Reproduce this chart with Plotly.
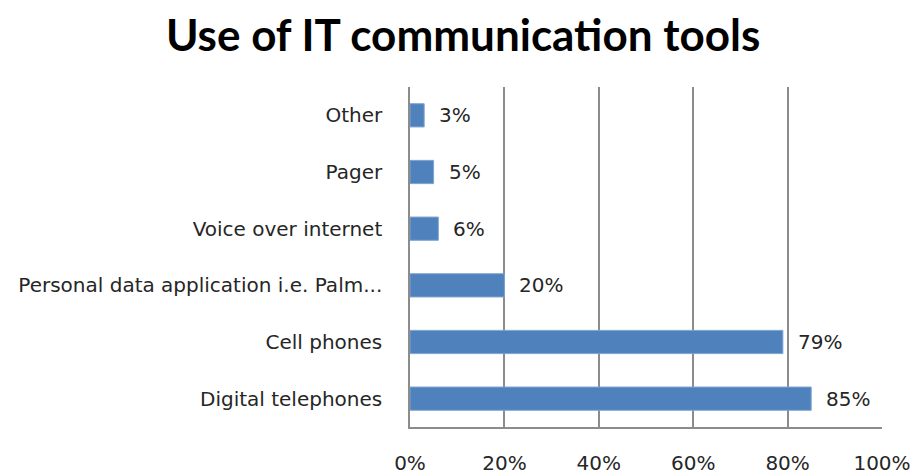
import plotly.graph_objects as go

# Survey categories, listed from the bottom bar upwards
categories = [
    "Digital telephones",
    "Cell phones",
    "Personal data application i.e. Palm...",
    "Voice over internet",
    "Pager",
    "Other",
]
shares = [85, 79, 20, 6, 5, 3]  # percent of respondents
x_ticks = [0, 20, 40, 60, 80, 100]
x_tick_labels = [f"{t}%" for t in x_ticks]

label_font = dict(family="DejaVu Sans, Verdana, sans-serif", size=20, color="#262626")

fig = go.Figure(
    go.Bar(
        x=shares,
        y=categories,
        orientation="h",
        marker=dict(color="#4F81BD", line=dict(color="#7FA3D0", width=1)),
        width=0.41,
        hoverinfo="skip",
    )
)

# Value labels placed just past each bar end
for cat, val in zip(categories, shares):
    fig.add_annotation(
        x=val, y=cat, text=f"{val}%", showarrow=False,
        xanchor="left", xshift=13, font=label_font,
    )

fig.update_layout(
    width=917,
    height=474,
    margin=dict(l=410, r=35, t=87, b=47),
    paper_bgcolor="white",
    plot_bgcolor="white",
    showlegend=False,
    title=dict(
        text="<b>Use of IT communication tools</b>",
        x=0.505, xanchor="center", y=0.925, yanchor="middle",
        font=dict(family="Lato, Open Sans, sans-serif", size=44, color="black"),
    ),
    xaxis=dict(
        range=[0, 100],
        tickvals=x_ticks,
        ticktext=x_tick_labels,
        showgrid=True,
        gridcolor="#8C8C8C",
        gridwidth=1.5,
        zeroline=False,
        showline=True,
        linecolor="#8C8C8C",
        linewidth=1.5,
        ticks="",
        ticklabelstandoff=17,
        automargin=False,
        tickfont=dict(family="DejaVu Sans, Verdana, sans-serif", size=20, color="#262626"),
        fixedrange=True,
    ),
    yaxis=dict(
        categoryorder="array",
        categoryarray=categories,
        showgrid=False,
        zeroline=False,
        showline=True,
        linecolor="#8C8C8C",
        linewidth=1.5,
        ticks="",
        ticklabelstandoff=22,
        automargin=False,
        tickfont=label_font,
        fixedrange=True,
    ),
)

fig.write_html("out.html")
